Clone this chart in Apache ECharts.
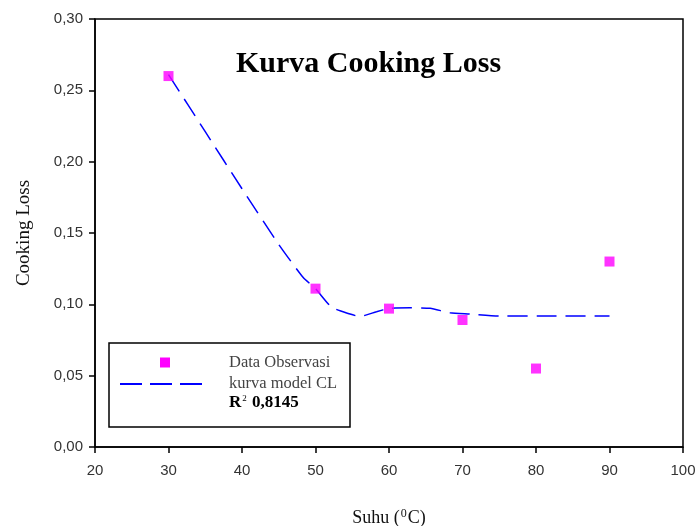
<!DOCTYPE html>
<html>
<head>
<meta charset="utf-8">
<script src="https://cdn.jsdelivr.net/npm/echarts@6/dist/echarts.min.js"></script>
<style>html,body{margin:0;padding:0;background:#fff}#c{width:696px;height:526px}</style>
</head>
<body>
<div id="c"></div>
<script>
// Observed data
const obsX = [30, 50, 60, 70, 80, 90];
const obsY = [0.260, 0.111, 0.097, 0.089, 0.055, 0.130];
// Model curve
const modelX = [30, 35, 40, 45, 48.3, 50, 52.2, 54.7, 56, 58.3, 60.1, 62.9, 65.6, 68.3, 71, 75, 82, 90];
const modelY = [0.261, 0.221, 0.181, 0.142, 0.119, 0.111, 0.098, 0.0932, 0.0915, 0.0948, 0.0972, 0.0976, 0.0972, 0.0941, 0.0932, 0.0918, 0.0918, 0.0918];
const xTicks = {min: 20, max: 100, step: 10};
const yTicks = {min: 0, max: 0.30, step: 0.05};
const seriesNames = ['Data Observasi', 'kurva model CL'];
const r2Text = '{b|R}{s|2}{b| 0,8145}';

const chart = echarts.init(document.getElementById('c'));
const serif = 'Liberation Serif';
chart.setOption({
  animation: false,
  title: {
    text: 'Kurva Cooking Loss', left: 231, top: 44,
    textStyle: {fontFamily: serif, fontSize: 30, fontWeight: 'bold', color: '#000'}
  },
  grid: {left: 95, right: 13, top: 19, bottom: 79, show: true, borderColor: '#000', borderWidth: 1.5,
    containLabel: false, outerBoundsMode: 'none'},
  legend: {show: false},
  xAxis: {
    type: 'value', min: xTicks.min, max: xTicks.max, interval: xTicks.step,
    axisLine: {lineStyle: {color: '#000', width: 1.5}},
    axisTick: {length: 6, lineStyle: {color: '#000', width: 1.5}},
    splitLine: {show: false},
    axisLabel: {color: '#333', fontFamily: 'Liberation Sans', fontSize: 15, margin: 16},
    name: 'Suhu ({s|0}C)', nameLocation: 'middle', nameGap: 61,
    nameTextStyle: {
      fontFamily: serif, fontSize: 18, color: '#111',
      rich: {s: {fontSize: 12, fontFamily: serif, color: '#111', verticalAlign: 'top', padding: [0, 1, 8, 1]}}
    }
  },
  yAxis: {
    type: 'value', min: yTicks.min, max: yTicks.max, interval: yTicks.step,
    axisLine: {show: true, lineStyle: {color: '#000', width: 1.5}},
    axisTick: {show: true, length: 6, lineStyle: {color: '#000', width: 1.5}},
    splitLine: {show: false},
    axisLabel: {color: '#333', fontFamily: 'Liberation Sans', fontSize: 15, margin: 12,
      formatter: v => v.toFixed(2).replace('.', ',')},
    name: 'Cooking Loss', nameLocation: 'middle', nameGap: 61,
    nameTextStyle: {fontFamily: serif, fontSize: 19, color: '#111'}
  },
  graphic: [
    {type: 'rect', shape: {x: 109, y: 343, width: 241, height: 84}, style: {fill: '#fff', stroke: '#000', lineWidth: 1.5}, z: 10},
    {type: 'rect', shape: {x: 160, y: 357.5, width: 10, height: 10}, style: {fill: '#ff00ff'}, z: 11},
    {type: 'line', shape: {x1: 120, y1: 384, x2: 202, y2: 384}, style: {stroke: '#0000ff', lineWidth: 2, lineDash: [22, 8]}, z: 11},
    {type: 'text', x: 229, y: 363, style: {text: seriesNames[0], font: '16.5px "Liberation Serif"', fill: '#444', verticalAlign: 'middle'}, z: 11},
    {type: 'text', x: 229, y: 384, style: {text: seriesNames[1], font: '16.5px "Liberation Serif"', fill: '#444', verticalAlign: 'middle'}, z: 11},
    {type: 'text', x: 229, y: 403, style: {text: r2Text, verticalAlign: 'middle',
      rich: {b: {fontFamily: serif, fontSize: 17, fontWeight: 'bold', color: '#000'},
             s: {fontFamily: serif, fontSize: 9, color: '#000', verticalAlign: 'top', padding: [0, 1, 8, 1]}}}, z: 11}
  ],
  series: [
    {
      name: seriesNames[0], type: 'scatter', symbol: 'rect', symbolSize: 10,
      itemStyle: {color: '#ff00ff'}, z: 3,
      data: obsX.map((x, i) => [x, obsY[i]])
    },
    {
      name: seriesNames[1], type: 'line', smooth: 0.2, showSymbol: false, symbol: 'none',
      lineStyle: {color: '#0000ff', width: 1.5, type: [20, 9]}, itemStyle: {color: '#0000ff'}, z: 2,
      data: modelX.map((x, i) => [x, modelY[i]])
    }
  ]
});
</script>
</body>
</html>
